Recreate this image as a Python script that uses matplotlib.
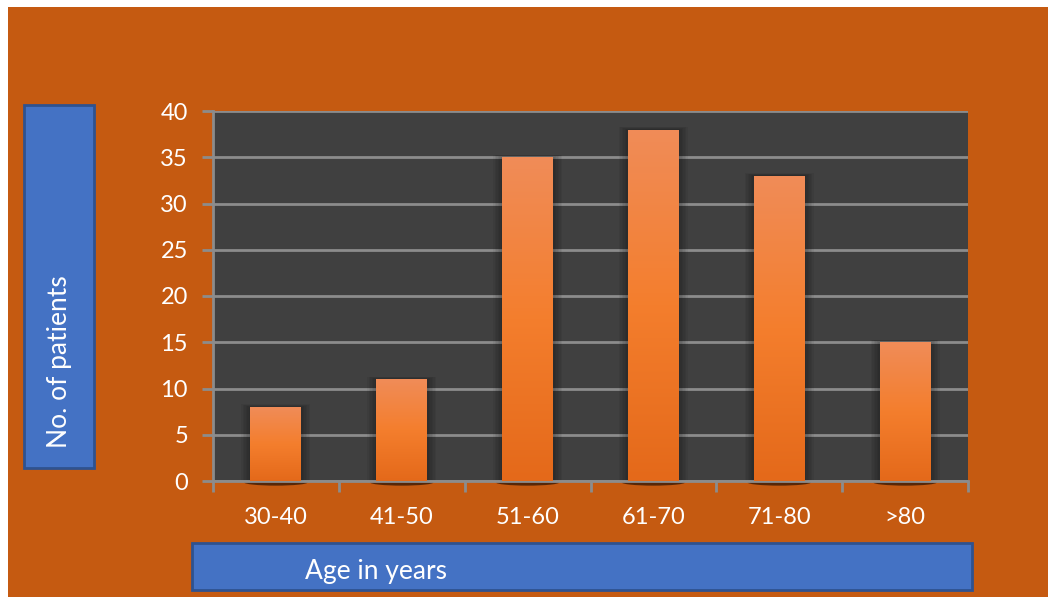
import numpy as np
import matplotlib
matplotlib.use("Agg")
import matplotlib.pyplot as plt
from matplotlib.patches import Rectangle, Ellipse
from matplotlib.colors import LinearSegmentedColormap

age_groups = ["30-40", "41-50", "51-60", "61-70", "71-80", ">80"]
patients = [8, 11, 35, 38, 33, 15]
y_ticks = [0, 5, 10, 15, 20, 25, 30, 35, 40]

W, H = 1048, 597
BG = "#C55A11"
PLOT_BG = "#404040"
GRID = "#8C8C8C"
BOX = "#4472C4"
BOX_EDGE = "#2F528F"

plt.rcParams["font.family"] = ["Lato", "DejaVu Sans"]

fig = plt.figure(figsize=(W / 100, H / 100), dpi=100, facecolor="white")

def px(x0, y0, x1, y1):
    # pixel box (top-left origin) -> figure fraction [l, b, w, h]
    return [x0 / W, 1 - y1 / H, (x1 - x0) / W, (y1 - y0) / H]

# orange slide background, white margin top/left
l, b, w, h = px(8, 7, W, H)
fig.patches.append(Rectangle((l, b), w, h, transform=fig.transFigure,
                             facecolor=BG, edgecolor="none", zorder=0))

# blue title boxes
l, b, w, h = px(24, 105, 94, 468)
fig.patches.append(Rectangle((l, b), w, h, transform=fig.transFigure,
                             facecolor=BOX, edgecolor=BOX_EDGE, lw=2, zorder=1))
fig.text(60 / W, 1 - 362 / H, "No. of patients", rotation=90, color="white",
         fontsize=19, ha="center", va="center")
l, b, w, h = px(192, 543, 972, 590)
fig.patches.append(Rectangle((l, b), w, h, transform=fig.transFigure,
                             facecolor=BOX, edgecolor=BOX_EDGE, lw=2, zorder=1))
fig.text(376 / W, 1 - 572 / H, "Age in years", color="white",
         fontsize=19, ha="center", va="center")

ax = fig.add_axes(px(213, 111, 968, 481))
ax.set_facecolor(PLOT_BG)
ax.set_zorder(2)

x = np.arange(len(age_groups))
bars = ax.bar(x, patients, width=0.405, color="none", zorder=3)

grad = LinearSegmentedColormap.from_list(
    "bar", ["#E4691A", "#F47E2D", "#F08C58"])
g = np.linspace(0, 1, 256).reshape(-1, 1)
for bar in bars:
    bx, bw, bh = bar.get_x(), bar.get_width(), bar.get_height()
    # soft shadow around each bar
    for k in range(6):
        pad = 0.012 * (k + 1)
        ax.add_patch(Rectangle((bx - pad, 0), bw + 2 * pad, bh + pad * 4,
                               facecolor="black", alpha=0.05, lw=0, zorder=2))
    ax.add_patch(Ellipse((bx + bw / 2, -0.15), bw * 1.25, 0.7,
                         facecolor="#3a1a05", alpha=0.8, lw=0, zorder=2,
                         clip_on=False))
    im = ax.imshow(g, cmap=grad, origin="lower", aspect="auto",
                   extent=(bx, bx + bw, 0, bh), zorder=4)
    im.set_clip_path(bar)

ax.set_xlim(-0.5, len(age_groups) - 0.5)
ax.set_ylim(0, 40)
ax.set_yticks(y_ticks)
ax.yaxis.grid(True, color=GRID, lw=2, zorder=1)
ax.set_axisbelow(True)

ax.set_xticks(x)
ax.set_xticklabels(age_groups)
ax.set_xticks(np.arange(-0.5, len(age_groups)), minor=True)
ax.tick_params(axis="x", which="major", length=0, pad=19, labelsize=17,
               labelcolor="white")
ax.tick_params(axis="x", which="minor", length=8, width=2, color=GRID)
ax.tick_params(axis="y", length=8, width=2, color=GRID, labelsize=17,
               labelcolor="white", pad=10)

for s in ["top", "right"]:
    ax.spines[s].set_visible(False)
for s in ["left", "bottom"]:
    ax.spines[s].set_color(GRID)
    ax.spines[s].set_linewidth(2)

# legend key without a label
lax = fig.add_axes(px(1009, 338, 1025, 353))
lax.imshow(g, cmap=grad, origin="lower", aspect="auto")
lax.axis("off")

fig.savefig("out.png", dpi=100, facecolor="white")
